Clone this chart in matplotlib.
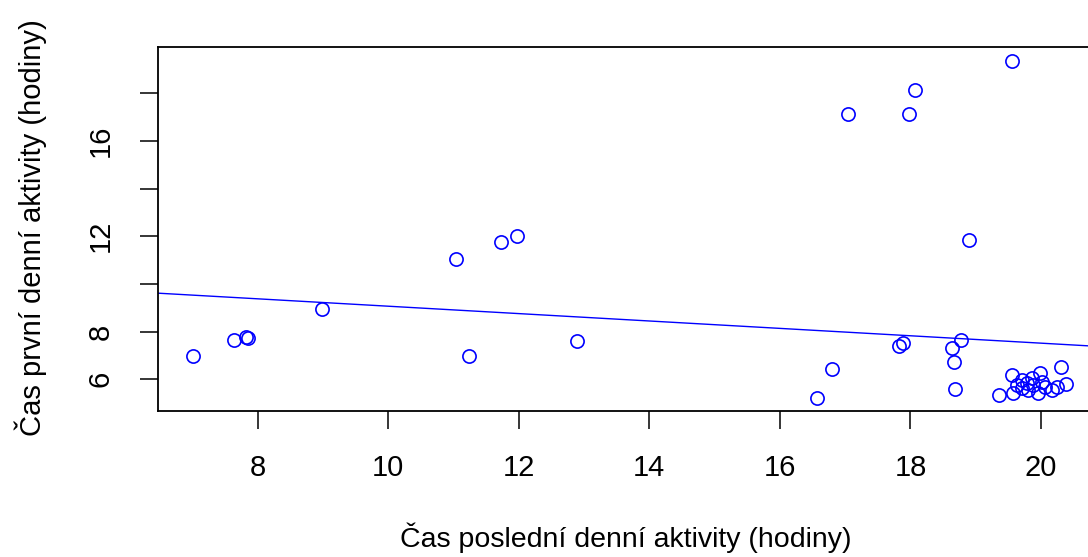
import numpy as np
import matplotlib.pyplot as plt

# last activity time (x) vs first activity time (y), hours
last_act = [7.01, 7.64, 7.82, 7.85, 8.99, 11.04, 11.24, 11.73, 11.97, 12.90,
            16.57, 16.80, 17.05, 17.98, 18.07, 19.56, 18.89,
            17.82, 17.89, 18.63, 18.77, 18.66, 18.68,
            19.36, 19.55, 19.57, 19.70, 19.70, 19.78, 19.86, 19.88, 19.98,
            19.96, 20.01, 20.06, 20.16, 20.24, 20.38, 20.30, 19.63, 19.80]
first_act = [6.98, 7.65, 7.79, 7.72, 8.95, 11.04, 6.98, 11.76, 12.01, 7.60,
             5.22, 6.43, 17.11, 17.11, 18.14, 19.36, 11.83,
             7.39, 7.53, 7.30, 7.65, 6.71, 5.58,
             5.34, 6.18, 5.41, 5.97, 5.62, 5.83, 6.04, 5.76, 6.28,
             5.41, 5.90, 5.69, 5.55, 5.69, 5.80, 6.50, 5.76, 5.55]

# lm coefficients for the abline
intercept = 10.615
slope = -0.155

x_ticks = [8, 10, 12, 14, 16, 18, 20]
y_ticks = [6, 8, 10, 12, 14, 16, 18]
y_ticklabels = ['6', '8', '', '12', '', '16', '']

plt.rcParams['font.family'] = ['Liberation Sans', 'DejaVu Sans']

W, H = 1088, 557
fig = plt.figure(figsize=(W / 100, H / 100), dpi=100)

x = np.array(last_act)
y = np.array(first_act)
xpad = (x.max() - x.min()) * 0.04
ypad = (y.max() - y.min()) * 0.04
xlim = (x.min() - xpad, x.max() + xpad)
ylim = (y.min() - ypad, y.max() + ypad)

# pixels per unit on each axis
px_x = 65.3
px_y = 23.85
left_px = 257.5 - (8 - xlim[0]) * px_x
bottom_px = H - (379.3 + (6 - ylim[0]) * px_y)
ax = fig.add_axes([left_px / W, bottom_px / H,
                   (xlim[1] - xlim[0]) * px_x / W,
                   (ylim[1] - ylim[0]) * px_y / H])

ax.plot(x, y, 'o', mfc='none', mec='blue', ms=9.5, mew=1.2)
xl = np.array(xlim)
ax.plot(xl, intercept + slope * xl, color='blue', lw=1)

ax.set_xlim(xlim)
ax.set_ylim(ylim)
ax.set_xticks(x_ticks)
ax.set_yticks(y_ticks)
ax.set_yticklabels(y_ticklabels, rotation=90, va='center')
ax.tick_params(length=13, width=1.1, labelsize=21, color='black')
ax.tick_params(axis='x', pad=18)
ax.tick_params(axis='y', pad=18)
for s in ax.spines.values():
    s.set_linewidth(1.3)

fig.text(626 / W, 1 - 547 / H, 'Čas poslední denní aktivity (hodiny)',
         ha='center', va='baseline', fontsize=20.5)
fig.text(31 / W, 1 - 228 / H, 'Čas první denní aktivity (hodiny)',
         ha='center', va='center', rotation=90, fontsize=21)

fig.savefig('out.png', dpi=100)
